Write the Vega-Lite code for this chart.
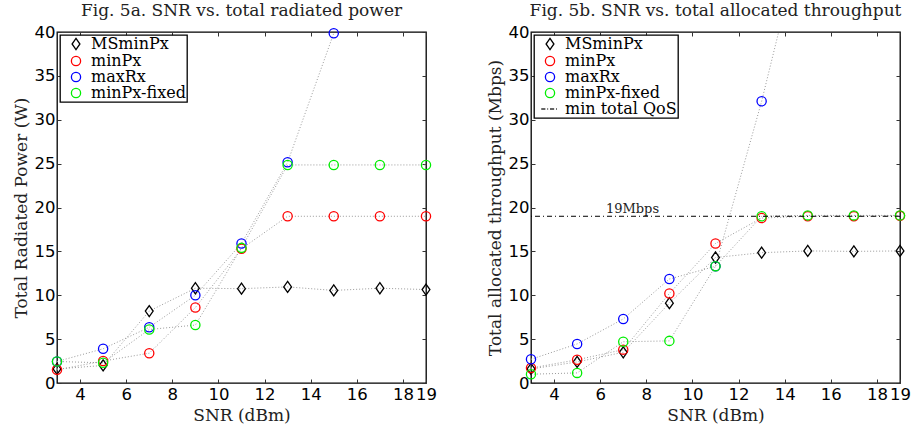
{
  "$schema": "https://vega.github.io/schema/vega-lite/v6.json",
  "padding": {"left": 11, "top": 1, "right": 0, "bottom": 0},
  "background": "white",
  "datasets": {
    "a": [
      {"snr": 3, "val": 1.6, "series": "MSminPx"}, {"snr": 5, "val": 2.0, "series": "MSminPx"}, {"snr": 7, "val": 8.2, "series": "MSminPx"}, {"snr": 9, "val": 10.8, "series": "MSminPx"}, {"snr": 11, "val": 10.75, "series": "MSminPx"}, {"snr": 13, "val": 10.95, "series": "MSminPx"}, {"snr": 15, "val": 10.55, "series": "MSminPx"}, {"snr": 17, "val": 10.8, "series": "MSminPx"}, {"snr": 19, "val": 10.65, "series": "MSminPx"},
      {"snr": 3, "val": 1.5, "series": "minPx"}, {"snr": 5, "val": 2.5, "series": "minPx"}, {"snr": 7, "val": 3.4, "series": "minPx"}, {"snr": 9, "val": 8.6, "series": "minPx"}, {"snr": 11, "val": 15.3, "series": "minPx"}, {"snr": 13, "val": 19.0, "series": "minPx"}, {"snr": 15, "val": 19.0, "series": "minPx"}, {"snr": 17, "val": 19.0, "series": "minPx"}, {"snr": 19, "val": 19.0, "series": "minPx"},
      {"snr": 3, "val": 2.45, "series": "maxRx"}, {"snr": 5, "val": 3.9, "series": "maxRx"}, {"snr": 7, "val": 6.35, "series": "maxRx"}, {"snr": 9, "val": 10.0, "series": "maxRx"}, {"snr": 11, "val": 15.9, "series": "maxRx"}, {"snr": 13, "val": 25.15, "series": "maxRx"}, {"snr": 15, "val": 39.85, "series": "maxRx"},
      {"snr": 3, "val": 2.45, "series": "minPx-fixed"}, {"snr": 5, "val": 2.3, "series": "minPx-fixed"}, {"snr": 7, "val": 6.1, "series": "minPx-fixed"}, {"snr": 9, "val": 6.6, "series": "minPx-fixed"}, {"snr": 11, "val": 15.4, "series": "minPx-fixed"}, {"snr": 13, "val": 24.85, "series": "minPx-fixed"}, {"snr": 15, "val": 24.85, "series": "minPx-fixed"}, {"snr": 17, "val": 24.85, "series": "minPx-fixed"}, {"snr": 19, "val": 24.85, "series": "minPx-fixed"}
    ],
    "b": [
      {"snr": 3, "val": 1.6, "series": "MSminPx"}, {"snr": 5, "val": 2.4, "series": "MSminPx"}, {"snr": 7, "val": 3.5, "series": "MSminPx"}, {"snr": 9, "val": 9.1, "series": "MSminPx"}, {"snr": 11, "val": 14.3, "series": "MSminPx"}, {"snr": 13, "val": 14.85, "series": "MSminPx"}, {"snr": 15, "val": 15.05, "series": "MSminPx"}, {"snr": 17, "val": 15.0, "series": "MSminPx"}, {"snr": 19, "val": 15.05, "series": "MSminPx"},
      {"snr": 3, "val": 1.7, "series": "minPx"}, {"snr": 5, "val": 2.65, "series": "minPx"}, {"snr": 7, "val": 3.8, "series": "minPx"}, {"snr": 9, "val": 10.2, "series": "minPx"}, {"snr": 11, "val": 15.9, "series": "minPx"}, {"snr": 13, "val": 18.8, "series": "minPx"}, {"snr": 15, "val": 19.0, "series": "minPx"}, {"snr": 17, "val": 19.0, "series": "minPx"}, {"snr": 19, "val": 19.05, "series": "minPx"},
      {"snr": 3, "val": 2.7, "series": "maxRx"}, {"snr": 5, "val": 4.45, "series": "maxRx"}, {"snr": 7, "val": 7.3, "series": "maxRx"}, {"snr": 9, "val": 11.85, "series": "maxRx"}, {"snr": 11, "val": 13.3, "series": "maxRx"}, {"snr": 13, "val": 32.1, "series": "maxRx"}, {"snr": 15, "val": 53.5, "series": "maxRx"},
      {"snr": 3, "val": 1.0, "series": "minPx-fixed"}, {"snr": 5, "val": 1.15, "series": "minPx-fixed"}, {"snr": 7, "val": 4.7, "series": "minPx-fixed"}, {"snr": 9, "val": 4.8, "series": "minPx-fixed"}, {"snr": 11, "val": 13.3, "series": "minPx-fixed"}, {"snr": 13, "val": 19.0, "series": "minPx-fixed"}, {"snr": 15, "val": 19.1, "series": "minPx-fixed"}, {"snr": 17, "val": 19.1, "series": "minPx-fixed"}, {"snr": 19, "val": 19.1, "series": "minPx-fixed"}
    ],
    "qos": [{"qos": 19, "snr": 7.4, "label": "19Mbps"}]
  },
  "hconcat": [
    {
      "width": 369, "height": 351,
      "title": {"text": "Fig. 5a. SNR vs. total radiated power"},
      "data": {"name": "a"},
      "layer": [
        {
          "mark": {"type": "line", "stroke": "#9a9a9a", "strokeWidth": 1, "strokeDash": [1, 2], "clip": true},
          "encoding": {
            "x": {"field": "snr", "type": "quantitative", "scale": {"domain": [3, 19], "nice": false, "zero": false}, "axis": {"orient": "bottom", "values": [4, 6, 8, 10, 12, 14, 16, 18, 19], "title": "SNR (dBm)", "titleFont": "DejaVu Serif"}},
            "y": {"field": "val", "type": "quantitative", "scale": {"domain": [0, 40], "nice": false}, "axis": {"orient": "left", "values": [0, 5, 10, 15, 20, 25, 30, 35, 40], "title": "Total Radiated Power (W)", "titleFont": "DejaVu Serif"}},
            "detail": {"field": "series"}
          }
        },
        {
          "mark": {"type": "point", "filled": false, "strokeWidth": 1.3, "size": 85, "opacity": 1},
          "encoding": {
            "x": {"field": "snr", "type": "quantitative", "axis": {"orient": "top", "values": [4, 6, 8, 10, 12, 14, 16, 18, 19], "labels": false, "title": null}},
            "y": {"field": "val", "type": "quantitative", "axis": {"orient": "right", "values": [0, 5, 10, 15, 20, 25, 30, 35, 40], "labels": false, "title": null}},
            "color": {"field": "series", "type": "nominal", "scale": {"domain": ["MSminPx", "minPx", "maxRx", "minPx-fixed"], "range": ["black", "red", "blue", "#00ee00"]}, "legend": {"title": null}},
            "shape": {"field": "series", "type": "nominal", "scale": {"domain": ["MSminPx", "minPx", "maxRx", "minPx-fixed"], "range": ["M0,-1.2L0.85,0L0,1.2L-0.85,0Z", "circle", "circle", "circle"]}, "legend": {"title": null}}
          }
        }
      ],
      "resolve": {"axis": {"x": "independent", "y": "independent"}}
    },
    {
      "width": 369, "height": 351,
      "title": {"text": "Fig. 5b. SNR vs. total allocated throughput"},
      "layer": [
        {
          "data": {"name": "b"},
          "mark": {"type": "line", "stroke": "#9a9a9a", "strokeWidth": 1, "strokeDash": [1, 2], "clip": true},
          "encoding": {
            "x": {"field": "snr", "type": "quantitative", "scale": {"domain": [3, 19], "nice": false, "zero": false}, "axis": {"orient": "bottom", "values": [4, 6, 8, 10, 12, 14, 16, 18, 19], "title": "SNR (dBm)", "titleFont": "DejaVu Serif"}},
            "y": {"field": "val", "type": "quantitative", "scale": {"domain": [0, 40], "nice": false}, "axis": {"orient": "left", "values": [0, 5, 10, 15, 20, 25, 30, 35, 40], "title": "Total allocated throughput (Mbps)", "titleFont": "DejaVu Serif"}},
            "detail": {"field": "series"}
          }
        },
        {
          "data": {"name": "b"},
          "transform": [{"filter": "datum.val <= 40"}],
          "mark": {"type": "point", "filled": false, "strokeWidth": 1.3, "size": 85, "opacity": 1},
          "encoding": {
            "x": {"field": "snr", "type": "quantitative", "axis": {"orient": "top", "values": [4, 6, 8, 10, 12, 14, 16, 18, 19], "labels": false, "title": null}},
            "y": {"field": "val", "type": "quantitative", "axis": {"orient": "right", "values": [0, 5, 10, 15, 20, 25, 30, 35, 40], "labels": false, "title": null}},
            "color": {"field": "series", "type": "nominal", "scale": {"domain": ["MSminPx", "minPx", "maxRx", "minPx-fixed", "min total QoS"], "range": ["black", "red", "blue", "#00ee00", "#333333"]}, "legend": {"title": null}},
            "shape": {"field": "series", "type": "nominal", "scale": {"domain": ["MSminPx", "minPx", "maxRx", "minPx-fixed", "min total QoS"], "range": ["M0,-1.2L0.85,0L0,1.2L-0.85,0Z", "circle", "circle", "circle", "M-1.9,0L-1.0,0M-0.6,0L-0.4,0M0,0L0.9,0M1.3,0L1.5,0"]}, "legend": {"title": null}}
          }
        },
        {
          "data": {"name": "qos"},
          "mark": {"type": "rule", "color": "black", "strokeWidth": 1, "strokeDash": [5, 3, 1, 3]},
          "encoding": {
            "y": {"field": "qos", "type": "quantitative", "axis": null}
          }
        },
        {
          "data": {"name": "qos"},
          "mark": {"type": "text", "font": "DejaVu Serif", "fontSize": 13, "baseline": "alphabetic", "dy": -3, "color": "#222"},
          "encoding": {
            "x": {"field": "snr", "type": "quantitative", "axis": null},
            "y": {"field": "qos", "type": "quantitative", "axis": null},
            "text": {"field": "label"}
          }
        }
      ],
      "resolve": {"axis": {"x": "independent", "y": "independent"}}
    }
  ],
  "spacing": 105,
  "bounds": "flush",
  "resolve": {"scale": {"color": "independent", "shape": "independent", "x": "independent", "y": "independent"}},
  "config": {
    "view": {"stroke": "black", "strokeWidth": 1.3},
    "axis": {"domain": false, "grid": false, "ticks": true, "tickSize": -4, "tickColor": "#333333", "tickWidth": 1, "labelFont": "DejaVu Sans", "labelFontSize": 16.5, "labelColor": "black", "labelPadding": 6, "titleFont": "DejaVu Serif", "titleFontSize": 17, "titleFontWeight": "normal", "titleColor": "#222222", "titlePadding": 4, "labelFlush": false},
    "axisBottom": {"labelPadding": 7, "titlePadding": 5},
    "legend": {"orient": "top-left", "offset": 3, "padding": 1, "symbolOffset": 7, "strokeColor": "black", "strokeWidth": 1.3, "fillColor": "white", "labelFont": "DejaVu Serif", "labelFontSize": 16, "labelColor": "black", "labelOffset": 7, "rowPadding": 0, "symbolStrokeWidth": 1.3, "symbolSize": 85},
    "title": {"font": "DejaVu Serif", "fontSize": 17, "fontWeight": "normal", "color": "#222222", "offset": 4}
  }
}
